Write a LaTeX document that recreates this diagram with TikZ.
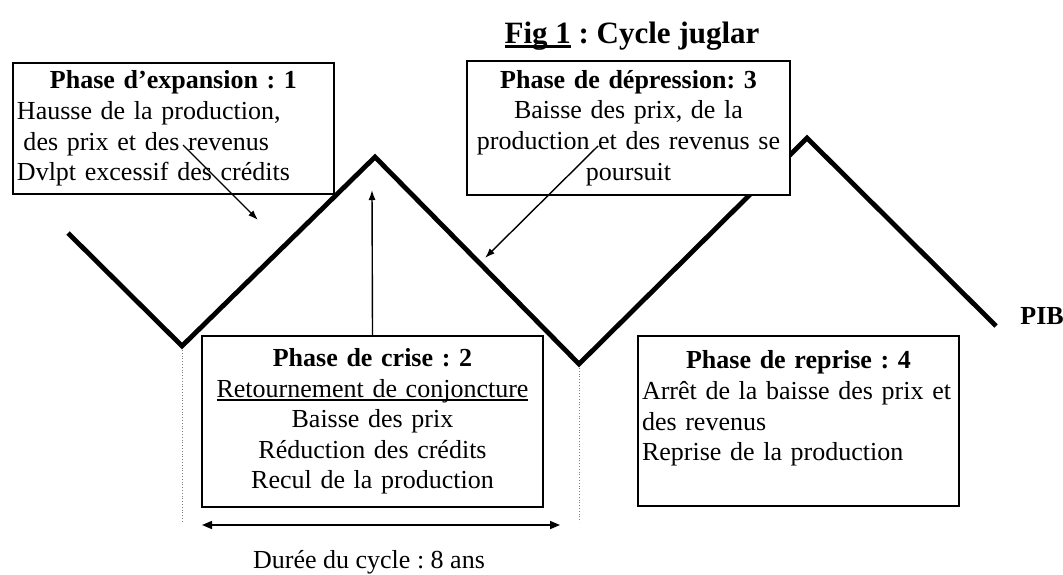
\documentclass[tikz,border=0pt]{standalone}
\usepackage{fontspec}
\setmainfont{Liberation Serif}
\usetikzlibrary{arrows.meta}
\frenchspacing
\newcommand{\phasetitle}[1]{\makebox[\hsize][c]{\bfseries #1}}
\newcommand{\ulbase}[1]{\leavevmode\setbox0=\hbox{#1}\rlap{\rule[-0.15em]{\wd0}{0.07em}}\box0\relax}

\begin{document}
\begin{tikzpicture}[x=0.5pt, y=-0.5pt,
  every node/.style={inner sep=2pt, font=\fontsize{13}{15.3}\selectfont},
  phase/.style={draw, line width=1pt, fill=white, anchor=north west},
  cycle line/.style={line width=2.4pt, line join=miter},
  arrow/.style={-{Latex[length=5pt, width=3.5pt]}, line width=0.7pt},
  span/.style={{Triangle[length=5pt, width=4pt]}-{Triangle[length=5pt, width=4pt]}, line width=0.8pt},
  guide/.style={densely dotted, gray, line width=0.4pt}]
\useasboundingbox (0,0) rectangle (1063,574);

% PIB curve
\coordinate (z0) at (68,233);
\coordinate (z1) at (182,346);
\coordinate (z2) at (375,157);
\coordinate (z3) at (579,364);
\coordinate (z4) at (807,138);
\coordinate (z5) at (996,326);
\draw[cycle line] (z0) -- (z1) -- (z2) -- (z3) -- (z4) -- (z5);

\node[font=\fontsize{15.5}{18}\selectfont\bfseries, anchor=base] (title)
  at (632,43) {\ulbase{Fig 1} : Cycle juglar};
\node[font=\fontsize{13}{15.3}\selectfont\bfseries, anchor=base west] (pib)
  at (1016,324) {PIB};

\node[phase, text width=156.5pt, minimum height=65.5pt, align=left] (expansion)
  at (12,62) {\phasetitle{Phase d’expansion : 1}\\
  Hausse de la production,\\
  \hspace*{0.25em}des prix et des revenus\\
  Dvlpt excessif des crédits};
\node[phase, text width=157.5pt, minimum height=67pt, align=center] (depression)
  at (466,60) {\textbf{Phase de dépression: 3}\\
  Baisse des prix, de la\\
  production et des revenus se\\
  poursuit};
\node[phase, text width=166.5pt, minimum height=85.5pt, align=center] (crise)
  at (201,335) {\textbf{Phase de crise : 2}\\
  \ulbase{Retournement de conjoncture}\\
  Baisse des prix\\
  Réduction des crédits\\
  Recul de la production};
\node[phase, text width=156.5pt, minimum height=85pt, align=left] (reprise)
  at (637,335) {\phasetitle{Phase de reprise : 4}\\
  Arrêt de la baisse des prix et\\
  des revenus\\
  Reprise de la production\\
  \mbox{}};

% arrows towards the curve
\coordinate (a1) at (183,145);
\coordinate (a1end) at (258,220);
\draw[arrow] (a1) -- (a1end);
\coordinate (peak) at (372,190);
\draw[arrow] (crise.north) -- (peak);
\coordinate (a3) at (598,146);
\coordinate (a3end) at (485,258);
\draw[arrow] (a3) -- (a3end);

% cycle length
\coordinate (g1top) at (182,350);
\coordinate (g1bot) at (182,522);
\coordinate (g2top) at (579,368);
\coordinate (g2bot) at (579,522);
\draw[guide] (g1top) -- (g1bot);
\draw[guide] (g2top) -- (g2bot);
\coordinate (durL) at (202,525);
\coordinate (durR) at (560,525);
\draw[span] (durL) -- (durR);
\node[anchor=base] (duree) at (369,568) {Durée du cycle : 8 ans};
\end{tikzpicture}
\end{document}
